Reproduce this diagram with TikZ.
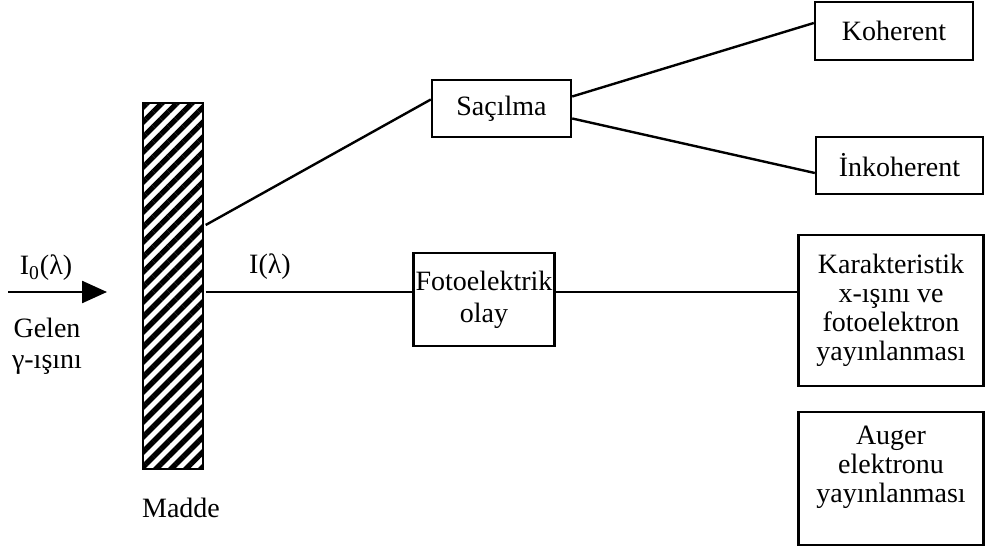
\documentclass[tikz,border=0pt]{standalone}
\usepackage{fontspec}
\setmainfont{Liberation Serif}
\usetikzlibrary{arrows.meta, positioning, patterns.meta}

\begin{document}
\begin{tikzpicture}[
    x=0.5pt, y=-0.5pt,
    font=\fontsize{14}{14.5}\selectfont,
    box/.style={draw, line width=1.2pt, align=center, inner xsep=1pt, inner ysep=2pt},
    link/.style={line width=1.2pt},
    lbl/.style={align=center, inner sep=0pt},
    beam/.style={line width=1.2pt, -{Triangle[length=12.5pt, width=11pt]}},
  ]
  \useasboundingbox (0,0) rectangle (986,550);

  % madde tabakasi
  \node[draw, line width=1.4pt, minimum width=30pt, minimum height=183pt, inner sep=0pt,
        pattern={Lines[angle=45, distance=5.3pt, line width=2.7pt]}] (madde) at (173,286) {};
  \node[lbl] (maddel) at (181,508) {Madde};

  % gelen isin
  \coordinate (src) at (8,292);
  \coordinate (tip) at (107,292);
  \draw[beam] (src) -- (tip);
  \node[lbl] (i0) at (46,268) {I\textsubscript{0}(λ)};
  \node[lbl] (gelen) at (47,346) {Gelen\\[1pt]γ-ışını};
  \node[lbl] (il) at (270,267) {I(λ)};

  % etkilesimler
  \node[box, minimum width=69.5pt, minimum height=28.5pt] (sac) at (501.5,108.5) {Saçılma};
  \node[box, minimum width=69pt, minimum height=46.5pt] (foto) at (484,299.5) {Fotoelektrik\\[1.5pt]olay};

  % sonuclar
  \node[box, minimum width=79pt, minimum height=29pt] (koh) at (894,31) {Koherent};
  \node[box, minimum width=83.5pt, minimum height=28.5pt] (inkoh) at (899.5,165.5) {İnkoherent};
  \node[box, minimum width=92.5pt, minimum height=75.5pt] (kar) at (891,310.5)
    {Karakteristik\\x-ışını ve\\fotoelektron\\yayınlanması};
  \node[box, minimum width=92.5pt, minimum height=66.5pt] (aug) at (891,478.5)
    {Auger\\elektronu\\yayınlanması\\\mbox{}};

  \draw[link] ([yshift=30.5pt]madde.east) -- ([yshift=4.5pt]sac.west);
  \draw[link] ([yshift=6pt]sac.east) -- ([yshift=4pt]koh.west);
  \draw[link] ([yshift=-5pt]sac.east) -- ([yshift=-3.75pt]inkoh.west);
  \draw[link] ([yshift=-3pt]madde.east) coordinate (p) -- (p -| foto.west);
  \draw[link] (foto.east |- p) -- (p -| kar.west);
\end{tikzpicture}
\end{document}
